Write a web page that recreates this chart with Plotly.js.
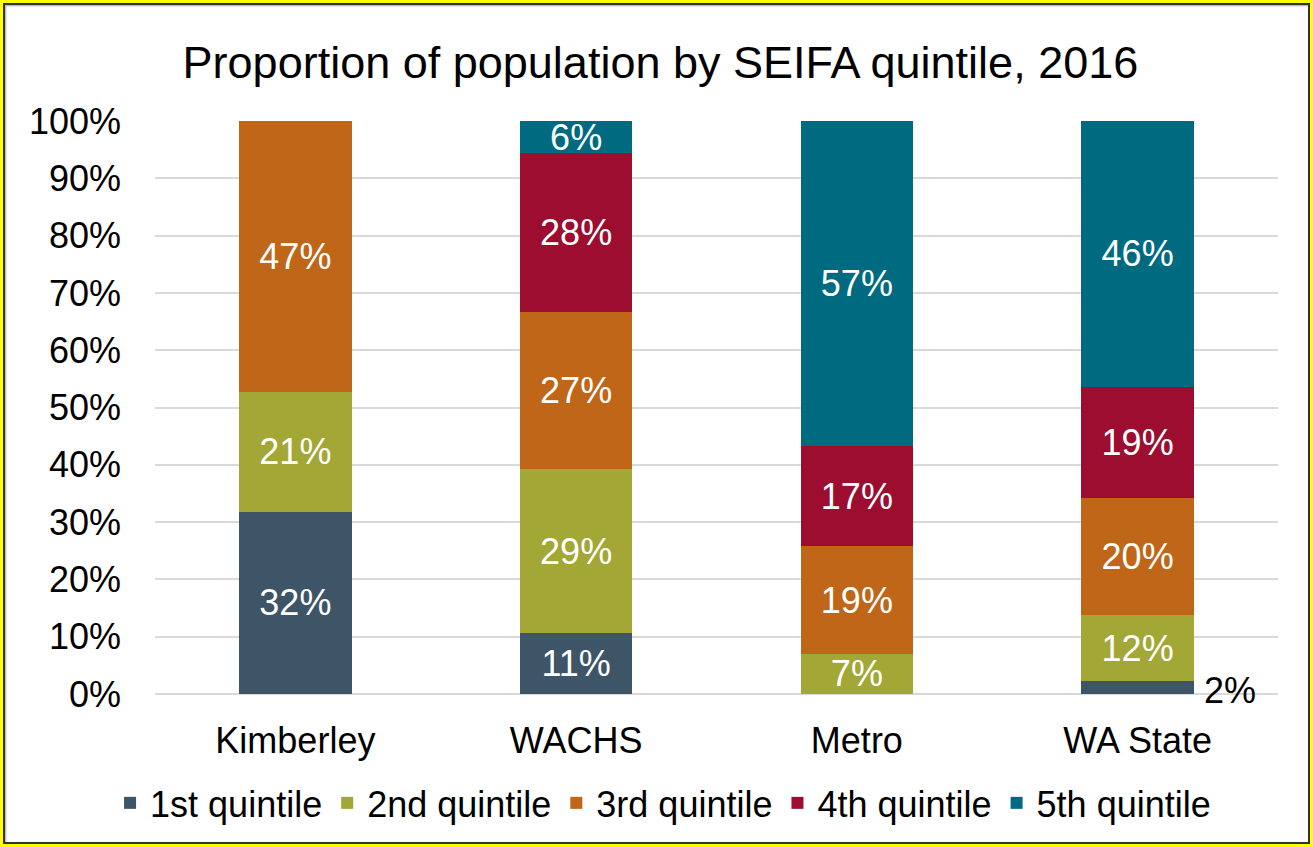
<!DOCTYPE html>
<html><head><meta charset="utf-8">
<script src="https://cdn.plot.ly/plotly-3.0.1.min.js"></script>
<style>
html,body{margin:0;padding:0;background:#fff;}
#wrap{position:relative;width:1313px;height:847px;overflow:hidden;}
#chart{position:absolute;left:0;top:0;width:1313px;height:847px;}
#b1{position:absolute;left:0;top:0;width:1313px;height:847px;box-sizing:border-box;border:3px solid #ffff00;pointer-events:none;}
#b2{position:absolute;left:3px;top:3px;width:1307px;height:841px;box-sizing:border-box;border:2px solid #333;box-shadow:inset 1px 1px 2px rgba(0,0,0,0.35);pointer-events:none;}
</style></head>
<body><div id="wrap"><div id="chart"></div><div id="b1"></div><div id="b2"></div></div>
<script>
const categories = ["Kimberley", "WACHS", "Metro", "WA State"];
const seriesNames = ["1st quintile", "2nd quintile", "3rd quintile", "4th quintile", "5th quintile"];
const q1 = [31.8, 10.6, 0, 2.2];
const q2 = [20.9, 28.6, 7.0, 11.6];
const q3 = [47.3, 27.4, 18.8, 20.4];
const q4 = [0, 27.8, 17.4, 19.4];
const q5 = [0, 5.6, 56.8, 46.4];
const colors = ["#3E5467", "#A2A736", "#BF6619", "#9C0D2F", "#006A80"];
const yTicks = [0,10,20,30,40,50,60,70,80,90,100];
const allSeries = [q1, q2, q3, q4, q5];
const FONT = "Liberation Sans, Arial, sans-serif";

const traces = allSeries.map((vals, i) => ({
  type: "bar",
  name: seriesNames[i],
  x: categories,
  y: vals,
  marker: {color: colors[i], line: {width: 0}},
  text: vals.map(v => v >= 4 ? Math.round(v) + "%" : ""),
  textposition: "inside",
  insidetextanchor: "middle",
  textangle: 0,
  constraintext: "none",
  textfont: {family: FONT, size: 36, color: "#ffffff"},
  hoverinfo: "skip"
}));

const annotations = [];
allSeries.forEach((vals, i) => {
  vals.forEach((v, j) => {
    if (v > 0 && v < 4) {
      let base = 0;
      for (let k = 0; k < i; k++) base += allSeries[k][j];
      annotations.push({
        x: categories[j], y: base + v / 2, xref: "x", yref: "y",
        text: Math.round(v) + "%", showarrow: false, xshift: 92, yshift: -3,
        font: {family: FONT, size: 36, color: "#000"}
      });
    }
  });
});

const layout = {
  width: 1313, height: 847,
  margin: {l: 155, r: 35, t: 121, b: 153},
  paper_bgcolor: "rgba(0,0,0,0)",
  plot_bgcolor: "#ffffff",
  barmode: "stack",
  bargap: 0.6,
  font: {family: FONT, color: "#000"},
  title: {text: "Proportion of population by SEIFA quintile, 2016", x: 0.503, xanchor: "center", y: 0.927, yanchor: "middle",
          font: {family: FONT, size: 45, color: "#000"}},
  xaxis: {type: "category", tickfont: {family: FONT, size: 36, color: "#000"}, showline: false, ticks: "", ticklabelstandoff: 22, showgrid: false, zeroline: false},
  yaxis: {range: [0, 100], tickvals: yTicks, ticktext: yTicks.map(t => t + "%"), tickfont: {family: FONT, size: 36, color: "#000"},
          gridcolor: "#d9d9d9", gridwidth: 2, zeroline: true, zerolinecolor: "#d9d9d9", zerolinewidth: 2, showline: false, ticks: "", ticklabelstandoff: 33},
  legend: {orientation: "h", x: 0.505, xanchor: "center", xref: "container", y: 0.052, yanchor: "middle", yref: "container",
           font: {family: FONT, size: 36, color: "#000"}, traceorder: "normal", itemclick: false},
  annotations: annotations,
  showlegend: true
};

Plotly.newPlot("chart", traces, layout, {staticPlot: true, displayModeBar: false});
</script></body></html>
